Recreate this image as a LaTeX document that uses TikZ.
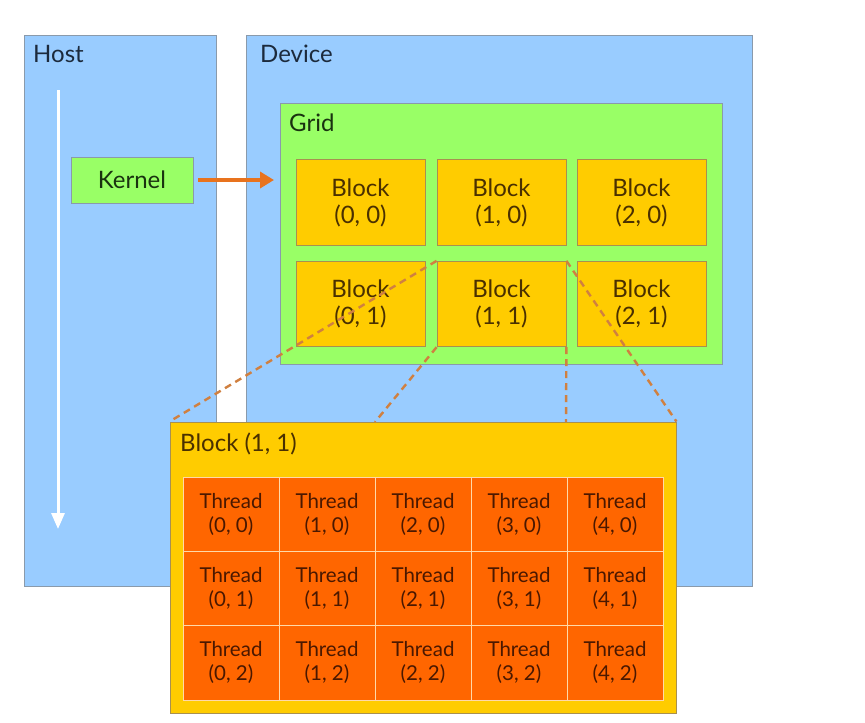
\documentclass[tikz,border=0pt]{standalone}
\usepackage{fontspec}
\setmainfont{Lato}
\usetikzlibrary{arrows.meta}
\definecolor{hostblue}{HTML}{99CCFF}
\definecolor{gridgreen}{HTML}{99FF66}
\definecolor{blockyellow}{HTML}{FFCC00}
\definecolor{threadorange}{HTML}{FF6600}
\definecolor{boxgray}{HTML}{8A9AAB}
\definecolor{blockedge}{HTML}{A89050}
\definecolor{arroworange}{HTML}{E8731E}
\definecolor{dashcol}{HTML}{D08040}
\definecolor{textnavy}{HTML}{1C2A3C}
\definecolor{textbrown}{HTML}{4A3000}
\definecolor{textgreen}{HTML}{1A3310}
\definecolor{threadtext}{HTML}{4A1800}
\definecolor{threadline}{HTML}{FFD9A8}
\tikzset{
  panel/.style={draw=boxgray, line width=0.9pt, fill=hostblue, inner sep=0pt, minimum width=#1},
  gridbox/.style={draw=boxgray, line width=0.9pt, fill=gridgreen, inner sep=0pt},
  blockbox/.style={draw=blockedge, line width=0.8pt, fill=blockyellow, inner sep=0pt,
     minimum width=129pt, minimum height=85.5pt, align=center, text=textbrown,
     font=\fontsize{24}{27}\selectfont},
  threadbox/.style={draw=threadline, line width=0.8pt, fill=threadorange, inner sep=0pt,
     minimum width=96pt, minimum height=74.33pt, align=center, text=threadtext,
     font=\fontsize{20.5}{24}\selectfont},
  title/.style={anchor=base west, inner sep=0pt, font=\fontsize{24}{27}\selectfont},
  dashline/.style={draw=dashcol, line width=2.4pt, dash pattern=on 7pt off 5pt},
}
\begin{document}
\begin{tikzpicture}[x=1pt,y=-1pt]
\useasboundingbox[fill=white] (0,0) rectangle (865,723);
% Host and Device
\node[panel=192pt, minimum height=551pt] (host) at (120,310.5) {};
\node[panel=506pt, minimum height=551pt] (device) at (499,310.5) {};
\node[title, text=textnavy] (hostlbl) at (33,62) {Host};
\node[title, text=textnavy] (devlbl) at (260,62) {Device};
% time arrow
\coordinate (ta) at (58,90);
\coordinate (tb) at (58,529);
\draw[white, line width=3pt, -{Triangle[length=16pt,width=13pt]}] (ta) -- (tb);
% Kernel
\node[draw=boxgray, line width=0.8pt, fill=gridgreen, minimum width=122pt, minimum height=46pt,
      inner sep=0pt, text=textgreen, font=\fontsize{24}{27}\selectfont] (kernel) at (132,180) {Kernel};
% Grid
\node[gridbox, minimum width=442pt, minimum height=261pt] (grid) at (501,233.5) {};
\node[title, text=textgreen] (gridlbl) at (289,131) {Grid};
\coordinate (gridin) at (274,180);
\draw[arroworange, line width=4pt, -{Triangle[length=14pt,width=16pt]}] (kernel.east) ++(5pt,0) coordinate (kout) -- (gridin);
% Blocks
\foreach \c/\x in {0/360.5,1/501.5,2/641.5}{
  \node[blockbox] (b\c0) at (\x,202.5) {Block\\(\c, 0)};
  \node[blockbox] (b\c1) at (\x,304) {Block\\(\c, 1)};
}
% Big block
\node[draw=blockedge, line width=0.9pt, fill=blockyellow, minimum width=506pt, minimum height=291pt, inner sep=0pt] (big) at (423,567.5) {};
\node[title, text=textbrown] (biglbl) at (180,451) {Block (1, 1)};
% dashed connectors
\coordinate (p1) at (375,422);
\coordinate (p2) at (566,422);
\draw[dashline] (b11.north west) -- (big.north west);
\draw[dashline] (b11.south west) -- (p1);
\draw[dashline] (b11.south east) -- (p2);
\draw[dashline] (b11.north east) -- (big.north east);
% Threads
\foreach \i in {0,...,4}{
  \foreach \j in {0,1,2}{
    \node[threadbox] (t\i\j) at ({231+96*\i},{514.17+74.33*\j}) {Thread\\(\i, \j)};
  }
}
\end{tikzpicture}
\end{document}
